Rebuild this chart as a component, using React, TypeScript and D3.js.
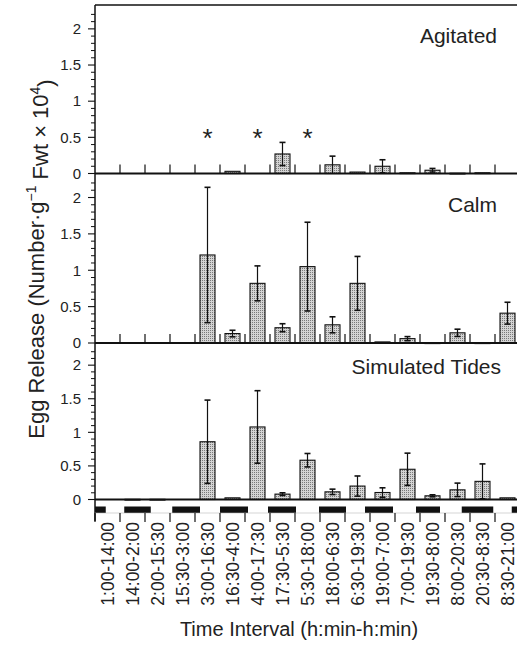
import React from "react";
import * as d3 from "d3";

const categories = [
  "1:00-14:00", "14:00-2:00", "2:00-15:30", "15:30-3:00", "3:00-16:30",
  "16:30-4:00", "4:00-17:30", "17:30-5:30", "5:30-18:00", "18:00-6:30",
  "6:30-19:30", "19:00-7:00", "7:00-19:30", "19:30-8:00", "8:00-20:30",
  "20:30-8:30", "8:30-21:00",
];

const agitatedValues = [0, 0, 0, 0, 0, 0.03, 0, 0.27, 0, 0.12, 0.02, 0.1, 0.01, 0.045, 0.004, 0.01, 0];
const agitatedErrors = [0, 0, 0, 0, 0, 0, 0, 0.16, 0, 0.12, 0, 0.09, 0, 0.025, 0, 0, 0];
const agitatedStars = [4, 6, 8];

const calmValues = [0, 0, 0, 0, 1.21, 0.13, 0.82, 0.21, 1.05, 0.25, 0.82, 0.015, 0.06, 0.003, 0.14, 0.003, 0.41];
const calmErrors = [0, 0, 0, 0, 0.93, 0.045, 0.24, 0.055, 0.61, 0.11, 0.37, 0, 0.028, 0, 0.05, 0, 0.15];

const tidesValues = [0, 0.003, 0.003, 0, 0.86, 0.025, 1.08, 0.08, 0.585, 0.114, 0.2, 0.104, 0.45, 0.055, 0.144, 0.27, 0.025];
const tidesErrors = [0, 0, 0, 0, 0.62, 0, 0.54, 0.02, 0.1, 0.04, 0.15, 0.07, 0.24, 0.015, 0.1, 0.26, 0];

// dark periods on the photoperiod strip, in category-index units
const darkStarts = [0, 1.17, 3.09, 5.0, 6.92, 8.96, 10.8, 12.84, 14.67, 16.67];
const darkEnds = [0.43, 2.23, 4.2, 6.12, 8.04, 10.04, 11.92, 13.8, 15.93, 17];

const yMajorTicks = [0, 0.5, 1, 1.5, 2];
const yMax = 2.33;

const panelNames = ["Agitated", "Calm", "Simulated Tides"];

const FONT = "'Liberation Sans', Arial, Helvetica, sans-serif";

export default function App() {
  const W = 517;
  const H = 645;
  const x0 = 95;
  const x1 = 520;

  const x = d3.scaleBand<string>().domain(categories).range([x0, x1]).padding(0);
  const xi = d3.scaleLinear().domain([0, categories.length]).range([x0, x1]);
  const bw = x.bandwidth() * 0.6;

  const panels = [
    { name: panelNames[0], top: 5, zero: 173.5, values: agitatedValues, errors: agitatedErrors, upTicks: true, stars: agitatedStars, titleY: 36 },
    { name: panelNames[1], top: 173.5, zero: 343, values: calmValues, errors: calmErrors, upTicks: true, stars: [] as number[], titleY: 205 },
    { name: panelNames[2], top: 343, zero: 499.5, values: tidesValues, errors: tidesErrors, upTicks: false, stars: [] as number[], titleY: 367 },
  ];

  const minorTicks = d3.range(0, 23).map((d) => d / 10).filter((d) => !yMajorTicks.some((m) => Math.abs(m - d) < 1e-6));

  const stripTop = 506.5;
  const stripBottom = 513;

  return (
    <svg width={W} height={H} style={{ position: "absolute", left: 0, top: 0, background: "#fff" }} fontFamily={FONT}>
      <defs>
        <pattern id="stipple" width="2" height="2" patternUnits="userSpaceOnUse">
          <rect width="2" height="2" fill="#d4d4d4" />
          <rect width="1" height="1" fill="#7a7a7a" />
        </pattern>
      </defs>
      <rect width={W} height={H} fill="#fff" />

      {panels.map((p, pi) => {
        const y = d3.scaleLinear().domain([0, yMax]).range([p.zero, p.top]);
        return (
          <g key={p.name}>
            {categories.map((c, i) => {
              const v = p.values[i];
              const e = p.errors[i];
              const cx = (x(c) as number) + x.bandwidth() / 2;
              const yt = y(v);
              return (
                <g key={c}>
                  {v > 0 && (
                    <rect x={cx - bw / 2} y={yt} width={bw} height={Math.max(p.zero - yt, 0.8)} fill="url(#stipple)" stroke="#111" strokeWidth={1.1} />
                  )}
                  {e > 0 && (
                    <g stroke="#111" strokeWidth={1.2}>
                      <line x1={cx} x2={cx} y1={y(Math.max(v - e, 0))} y2={y(v + e)} />
                      <line x1={cx - 3} x2={cx + 3} y1={y(v + e)} y2={y(v + e)} strokeWidth={1.6} />
                      {v - e > 0 && <line x1={cx - 3} x2={cx + 3} y1={y(v - e)} y2={y(v - e)} strokeWidth={1.6} />}
                    </g>
                  )}
                </g>
              );
            })}
            {p.stars.map((si) => (
              <text key={si} x={(x(categories[si]) as number) + x.bandwidth() / 2} y={147} fontSize={26} textAnchor="middle" fill="#222">*</text>
            ))}
            <line x1={x0} x2={W} y1={p.zero} y2={p.zero} stroke="#111" strokeWidth={1.8} />
            {p.upTicks &&
              d3.range(1, categories.length).map((k) => (
                <line key={k} x1={xi(k)} x2={xi(k)} y1={p.zero} y2={p.zero - 9} stroke="#111" strokeWidth={1.2} />
              ))}
            {yMajorTicks.map((t) => (
              <g key={t}>
                <line x1={x0 - 7} x2={x0} y1={y(t)} y2={y(t)} stroke="#111" strokeWidth={1.1} />
                <text x={81} y={y(t)} dy="0.35em" fontSize={15} textAnchor="end" fill="#222">{String(t)}</text>
              </g>
            ))}
            {minorTicks.map((t) => (
              <line key={t} x1={x0 - 4} x2={x0} y1={y(t)} y2={y(t)} stroke="#111" strokeWidth={1} />
            ))}
            <text x={pi === 2 ? 501 : 497} y={p.titleY} dy="0.35em" fontSize={21} textAnchor="end" fill="#222">{p.name}</text>
          </g>
        );
      })}

      <line x1={x0} x2={W} y1={5} y2={5} stroke="#111" strokeWidth={1.5} />
      <line x1={x0} x2={x0} y1={5} y2={521} stroke="#111" strokeWidth={1.5} />

      {darkStarts.map((s, i) => (
        <rect key={i} x={xi(s)} y={stripTop} width={xi(darkEnds[i]) - xi(s)} height={stripBottom - stripTop} fill="#111" />
      ))}
      <line x1={x0} x2={W} y1={stripBottom} y2={stripBottom} stroke="#bbb" strokeWidth={0.6} />

      {d3.range(0, categories.length).map((k) => (
        <line key={k} x1={xi(k)} x2={xi(k)} y1={stripBottom} y2={522} stroke="#111" strokeWidth={1.2} />
      ))}

      {categories.map((c) => {
        const cx = (x(c) as number) + x.bandwidth() / 2;
        return (
          <text key={c} transform={`translate(${cx},${522}) rotate(-90)`} dy="0.35em" fontSize={17.5} textAnchor="end" fill="#222">{c}</text>
        );
      })}

      <text x={299} y={636} fontSize={20} textAnchor="middle" fill="#222">Time Interval (h:min-h:min)</text>

      <text transform={`translate(36,259) rotate(-90)`} dy="0.35em" fontSize={22} textAnchor="middle" fill="#222">
        Egg Release (Number·g<tspan fontSize={14} dy="-0.55em">−1</tspan>
        <tspan dy="0.55em"> Fwt × 10</tspan>
        <tspan fontSize={14} dy="-0.55em">4</tspan>
        <tspan dy="0.55em">)</tspan>
      </text>
    </svg>
  );
}
